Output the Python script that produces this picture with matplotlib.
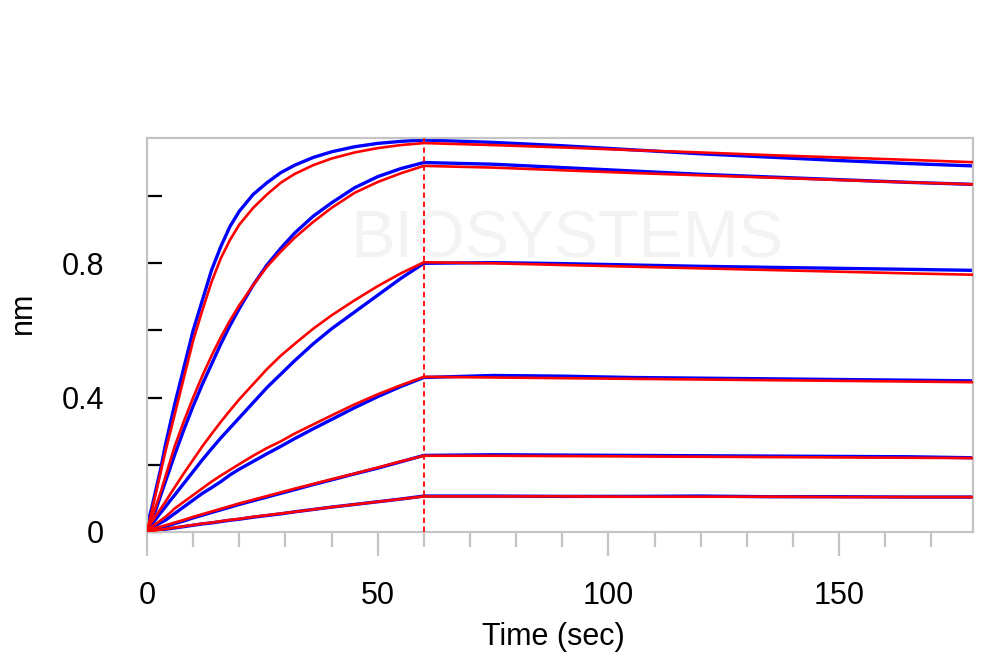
import matplotlib
matplotlib.use("Agg")
import matplotlib.pyplot as plt
from matplotlib.ticker import MultipleLocator, FixedLocator, FuncFormatter

plt.rcParams['font.family'] = ['Liberation Sans', 'DejaVu Sans']

# time points (sec): association 0-60, dissociation 60-179
t_assoc = [0, 1, 2, 3, 4, 5, 6, 8, 10, 12, 14, 16, 18, 20, 23, 26, 29, 32, 36, 40, 45, 50, 55, 60]
t_dissoc = [75, 90, 105, 120, 135, 150, 165, 179]
time = t_assoc + t_dissoc

# fitted curves (red), association part then dissociation part, high to low concentration
fit_1 = [0.0, 0.06, 0.12, 0.18, 0.24, 0.295, 0.35, 0.46, 0.57, 0.66, 0.745, 0.815, 0.87, 0.915, 0.965, 1.005,
         1.04, 1.066, 1.092, 1.112, 1.13, 1.143, 1.152, 1.158] + \
        [1.152, 1.145, 1.137, 1.130, 1.122, 1.115, 1.108, 1.101]
fit_2 = [0.01, 0.04, 0.08, 0.12, 0.165, 0.21, 0.255, 0.33, 0.40, 0.465, 0.525, 0.58, 0.63, 0.675, 0.735, 0.79,
         0.835, 0.876, 0.923, 0.965, 1.01, 1.042, 1.068, 1.090] + \
        [1.085, 1.077, 1.069, 1.062, 1.055, 1.048, 1.041, 1.035]
fit_3 = [0.01, 0.03, 0.05, 0.07, 0.09, 0.112, 0.133, 0.175, 0.215, 0.255, 0.292, 0.328, 0.362, 0.395, 0.44, 0.485,
         0.525, 0.56, 0.605, 0.645, 0.69, 0.732, 0.77, 0.803] + \
        [0.800, 0.795, 0.790, 0.785, 0.780, 0.775, 0.770, 0.766]
fit_4 = [0.005, 0.015, 0.025, 0.035, 0.045, 0.057, 0.07, 0.09, 0.11, 0.13, 0.15, 0.168, 0.185, 0.202, 0.227, 0.25,
         0.27, 0.293, 0.32, 0.347, 0.38, 0.41, 0.437, 0.462] + \
        [0.460, 0.458, 0.456, 0.454, 0.452, 0.450, 0.448, 0.446]
fit_5 = [0.005, 0.009, 0.012, 0.016, 0.02, 0.024, 0.028, 0.036, 0.045, 0.053, 0.061, 0.069, 0.077, 0.085, 0.096, 0.107,
         0.118, 0.129, 0.143, 0.157, 0.174, 0.192, 0.21, 0.227] + \
        [0.227, 0.226, 0.225, 0.224, 0.223, 0.222, 0.221, 0.220]
fit_6 = [0.0, 0.003, 0.005, 0.007, 0.009, 0.011, 0.013, 0.017, 0.021, 0.025, 0.028, 0.032, 0.036, 0.039, 0.045, 0.05,
         0.055, 0.06, 0.067, 0.074, 0.082, 0.09, 0.098, 0.106] + \
        [0.106, 0.106, 0.105, 0.105, 0.105, 0.104, 0.104, 0.104]

# measured traces (blue)
data_1 = [0.02, 0.07, 0.13, 0.19, 0.26, 0.32, 0.38, 0.49, 0.60, 0.69, 0.78, 0.85, 0.91, 0.955, 1.005, 1.04,
          1.07, 1.092, 1.115, 1.132, 1.147, 1.157, 1.163, 1.167] + \
         [1.160, 1.150, 1.138, 1.126, 1.116, 1.106, 1.097, 1.090]
data_2 = [0.02, 0.03, 0.07, 0.11, 0.15, 0.19, 0.23, 0.305, 0.375, 0.44, 0.50, 0.56, 0.615, 0.665, 0.735, 0.795,
          0.845, 0.89, 0.94, 0.98, 1.025, 1.058, 1.082, 1.10] + \
         [1.095, 1.085, 1.075, 1.065, 1.057, 1.049, 1.041, 1.035]
data_3 = [0.02, 0.022, 0.04, 0.058, 0.075, 0.093, 0.11, 0.145, 0.18, 0.215, 0.248, 0.28, 0.31, 0.34, 0.385, 0.43,
          0.47, 0.51, 0.56, 0.605, 0.655, 0.705, 0.755, 0.80] + \
         [0.802, 0.799, 0.795, 0.791, 0.788, 0.785, 0.782, 0.779]
data_4 = [0.02, 0.015, 0.02, 0.028, 0.035, 0.045, 0.055, 0.075, 0.095, 0.115, 0.132, 0.15, 0.17, 0.187, 0.21, 0.233,
          0.255, 0.278, 0.307, 0.335, 0.37, 0.403, 0.433, 0.46] + \
         [0.466, 0.464, 0.460, 0.458, 0.456, 0.454, 0.452, 0.450]
data_5 = [0.02, 0.01, 0.01, 0.013, 0.017, 0.021, 0.025, 0.033, 0.042, 0.05, 0.058, 0.066, 0.074, 0.082, 0.093, 0.104,
          0.115, 0.126, 0.141, 0.155, 0.173, 0.19, 0.209, 0.228] + \
         [0.230, 0.229, 0.228, 0.227, 0.226, 0.225, 0.224, 0.221]
data_6 = [0.02, 0.005, 0.003, 0.005, 0.008, 0.01, 0.012, 0.016, 0.02, 0.024, 0.027, 0.031, 0.035, 0.038, 0.044, 0.049,
          0.054, 0.06, 0.067, 0.074, 0.082, 0.09, 0.098, 0.107] + \
         [0.107, 0.106, 0.106, 0.107, 0.105, 0.105, 0.104, 0.104]

fits = [fit_1, fit_2, fit_3, fit_4, fit_5, fit_6]
traces = [data_1, data_2, data_3, data_4, data_5, data_6]

fig = plt.figure(figsize=(10, 6.7), dpi=100)
ax = fig.add_axes([0.147, 0.206, 0.826, 0.588])

# faint watermark
ax.text(0.508, 0.741, "BIOSYSTEMS", transform=ax.transAxes, ha='center', va='center',
        fontsize=48, color='#f3f3f3', zorder=0)

for trace, fit in zip(traces, fits):
    ax.plot(time, trace, color='#0000ff', lw=2.4, zorder=2)
    ax.plot(time, fit, color='#ff0000', lw=1.9, zorder=3)

ax.axvline(60, color='#ff0000', lw=1.3, dashes=(3, 2), zorder=4)

ax.set_xlim(0, 179)
ax.set_ylim(0, 1.173)

for s in ax.spines.values():
    s.set_color('#c4c4c4')
    s.set_linewidth(1.6)

ax.xaxis.set_major_locator(FixedLocator([0, 50, 100, 150]))
ax.xaxis.set_minor_locator(MultipleLocator(10))
ax.tick_params(axis='x', which='major', direction='out', length=17, width=1.6, color='#c4c4c4',
               labelsize=22, pad=18)
ax.tick_params(axis='x', which='minor', direction='out', length=11, width=1.6, color='#c4c4c4')

ax.yaxis.set_major_locator(FixedLocator([0, 0.2, 0.4, 0.6, 0.8, 1.0]))
ax.yaxis.set_major_formatter(FuncFormatter(lambda v, p: {0: '0', 2: '0.4', 4: '0.8'}.get(p, '')))
ax.tick_params(axis='y', which='major', direction='in', length=11, width=1.6, color='black',
               labelsize=22, pad=31)

ax.set_xlabel("Time (sec)", fontsize=22)
ax.set_ylabel("nm", fontsize=22)
ax.xaxis.set_label_coords(0.4915, -0.228)
ax.yaxis.set_label_coords(-0.132, 0.556)

fig.savefig("out.png", dpi=100)
